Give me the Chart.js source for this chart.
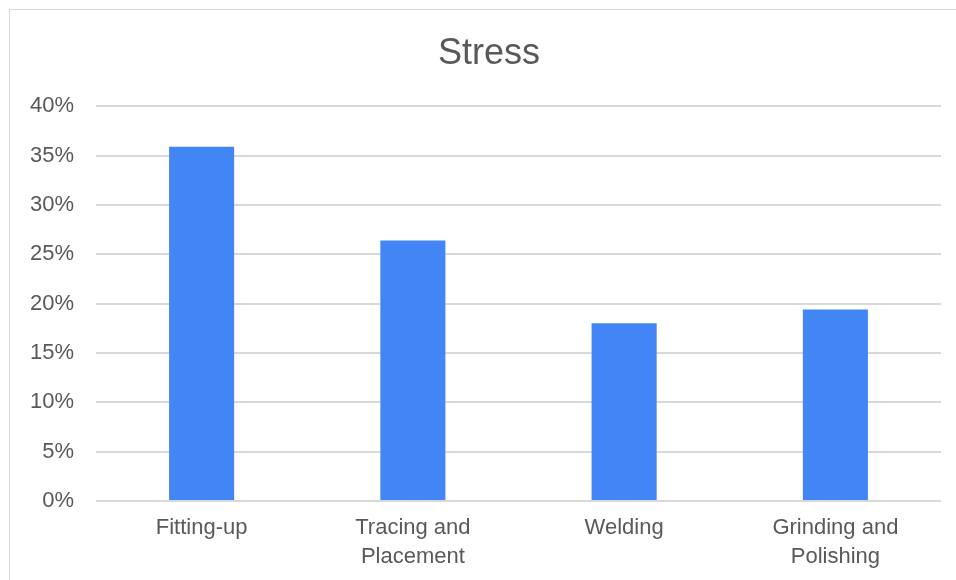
<!DOCTYPE html>
<html>
<head>
<meta charset="utf-8">
<script src="https://cdn.jsdelivr.net/npm/chart.js@4"></script>
<style>
  html, body { margin: 0; padding: 0; background: #fff; overflow: hidden; width: 956px; height: 580px; }
  #frame { position: absolute; left: 9px; top: 9px; width: 1000px; height: 1000px; border: 1px solid #d9d9d9; }
  #wrap { position: absolute; left: 10px; top: 10px; width: 960px; height: 590px; }
</style>
</head>
<body>
<div id="frame"></div>
<div id="wrap"><canvas id="stressChart"></canvas></div>
<script>
const categories = ["Fitting-up", ["Tracing and", "Placement"], "Welding", ["Grinding and", "Polishing"]];
const stressValues = [35.9, 26.4, 18, 19.4];
const yTicks = [0, 5, 10, 15, 20, 25, 30, 35, 40];

// the y labels sit partly in the left padding, so don't let the scale box clip them
const unclipY = {
    id: "unclipY",
    afterLayout(chart) { chart.scales.y.left = 0; }
};

const ctx = document.getElementById("stressChart").getContext("2d");
const chart = new Chart(ctx, {
    type: "bar",
    data: {
        labels: categories,
        datasets: [
            {
                label: "Stress",
                data: stressValues,
                backgroundColor: "#4285f4",
                categoryPercentage: 1,
                barPercentage: 0.308
            }
        ]
    },
    options: {
        responsive: true,
        maintainAspectRatio: false,
        animation: false,
        layout: { padding: { left: 27, right: 29, top: 0, bottom: 0 } },
        plugins: {
            legend: { display: false },
            tooltip: { enabled: false },
            title: {
                display: true,
                text: "Stress",
                color: "#595959",
                font: { family: "Liberation Sans", size: 36, weight: "normal" },
                padding: { top: 22, bottom: 31 }
            }
        },
        scales: {
            x: {
                grid: { display: false, drawTicks: false },
                border: { display: false },
                ticks: {
                    color: "#595959",
                    padding: 13,
                    maxRotation: 0,
                    autoSkip: false,
                    font: { family: "Liberation Sans", size: 22, lineHeight: 1.3 }
                },
                afterFit: (scale) => { scale.height = 99; }
            },
            y: {
                min: 0,
                max: 40,
                afterBuildTicks: (scale) => { scale.ticks = yTicks.map(v => ({ value: v })); },
                grid: { color: "#d9d9d9", lineWidth: 2, drawTicks: false },
                border: { display: false },
                ticks: {
                    color: "#595959",
                    padding: 22,
                    font: { family: "Liberation Sans", size: 22 },
                    callback: (v) => v + "%"
                },
                afterFit: (scale) => { scale.width = 59; }
            }
        }
    },
    plugins: [unclipY]
});
</script>
</body>
</html>
